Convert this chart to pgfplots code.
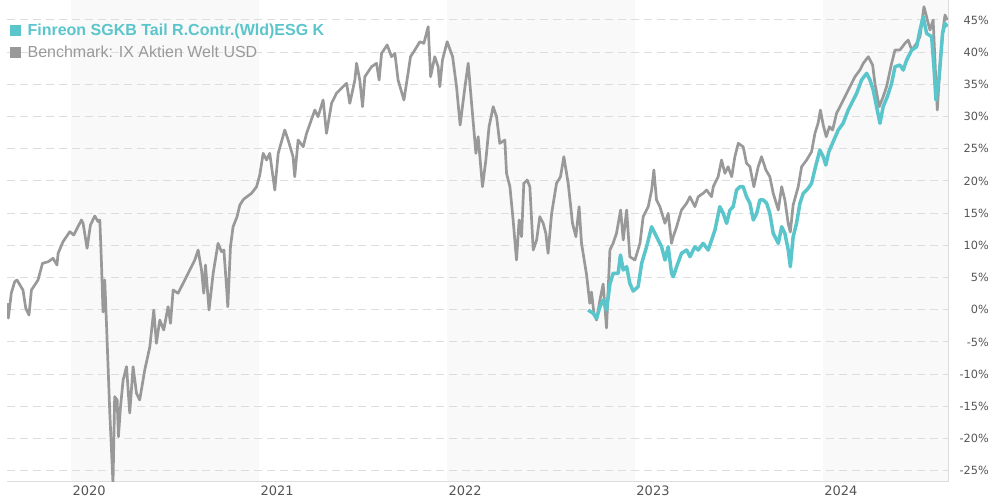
\documentclass[border=0pt]{standalone}
\usepackage{fontspec}
\setmainfont{Liberation Sans}
\newfontfamily\tickfont{DejaVu Sans}
\usepackage{pgfplots}
\pgfplotsset{compat=1.18}
\usepackage{pgfplotstable}
\definecolor{fundteal}{RGB}{91,197,204}
\definecolor{benchgray}{RGB}{153,153,153}
\definecolor{bandgray}{RGB}{249,249,249}
\definecolor{gridgray}{RGB}{221,221,221}
\definecolor{ticktext}{RGB}{85,85,85}

\pgfplotstableread{
x y
2019.657 1.0
2019.664 -1.3
2019.680 2.6
2019.698 4.35
2019.710 4.61
2019.742 3.06
2019.757 0.22
2019.774 -0.82
2019.787 3.06
2019.822 4.61
2019.846 7.21
2019.876 7.45
2019.902 7.98
2019.923 6.94
2019.929 8.76
2019.955 10.56
2019.991 12.11
2020.012 11.60
2020.053 13.93
2020.062 13.42
2020.083 9.54
2020.101 13.15
2020.124 14.55
2020.142 13.67
2020.151 13.93
2020.160 6.94
2020.168 -0.36
2020.177 4.61
2020.186 -1.91
2020.204 -16.04
2020.221 -27.0
2020.230 -13.51
2020.243 -14.02
2020.250 -19.72
2020.261 -15.06
2020.275 -10.92
2020.293 -8.85
2020.310 -16.04
2020.328 -8.85
2020.346 -12.98
2020.363 -14.02
2020.390 -9.36
2020.417 -5.75
2020.438 -0.05
2020.452 -5.22
2020.470 -1.60
2020.491 -3.15
2020.514 0.47
2020.527 -2.11
2020.541 3.06
2020.567 2.55
2020.603 4.61
2020.630 6.17
2020.656 7.72
2020.674 9.27
2020.692 6.17
2020.704 2.55
2020.713 6.94
2020.732 -0.05
2020.754 5.65
2020.780 10.31
2020.798 9.01
2020.811 9.27
2020.825 3.57
2020.832 0.47
2020.846 9.78
2020.860 12.89
2020.881 14.44
2020.896 16.26
2020.913 17.04
2020.922 17.30
2020.958 18.08
2020.985 19.10
2021.002 20.92
2021.020 24.29
2021.038 23.25
2021.055 24.29
2021.082 18.59
2021.100 24.29
2021.135 27.91
2021.153 26.35
2021.179 23.76
2021.188 20.65
2021.206 26.35
2021.233 25.31
2021.251 27.39
2021.295 31.01
2021.312 29.97
2021.339 32.57
2021.357 27.39
2021.384 32.05
2021.410 33.61
2021.445 34.63
2021.464 35.16
2021.481 32.05
2021.508 35.67
2021.517 38.27
2021.534 35.67
2021.549 31.53
2021.561 36.19
2021.597 37.74
2021.623 38.27
2021.637 35.67
2021.650 39.82
2021.680 41.11
2021.703 39.29
2021.721 39.82
2021.738 35.67
2021.769 32.57
2021.791 36.71
2021.804 39.29
2021.827 40.33
2021.854 41.62
2021.875 41.37
2021.898 43.95
2021.911 36.19
2021.933 39.29
2021.951 37.74
2021.960 34.63
2021.974 38.78
2021.999 41.62
2022.028 39.29
2022.049 34.63
2022.068 28.68
2022.093 34.43
2022.111 38.27
2022.129 32.05
2022.152 24.29
2022.164 26.87
2022.187 19.10
2022.205 23.25
2022.222 28.42
2022.244 31.53
2022.262 29.97
2022.279 25.84
2022.306 26.35
2022.315 21.18
2022.333 19.10
2022.350 13.93
2022.368 7.72
2022.382 13.93
2022.395 11.34
2022.407 19.63
2022.425 20.14
2022.439 19.10
2022.457 9.27
2022.475 10.82
2022.492 14.44
2022.510 13.42
2022.524 11.86
2022.536 8.76
2022.555 14.97
2022.581 19.63
2022.602 20.65
2022.620 23.76
2022.643 19.63
2022.666 13.42
2022.684 11.34
2022.701 16.00
2022.714 10.31
2022.741 5.39
2022.758 0.99
2022.767 2.75
2022.780 -0.56
2022.794 -1.60
2022.812 1.51
2022.829 3.99
2022.847 -2.84
2022.865 9.27
2022.882 10.31
2022.900 11.86
2022.922 15.48
2022.936 10.82
2022.954 15.48
2022.971 8.23
2022.998 7.72
2023.025 10.31
2023.042 14.44
2023.069 16.00
2023.087 18.59
2023.099 21.70
2023.113 17.04
2023.131 16.00
2023.158 13.42
2023.175 14.97
2023.193 10.31
2023.202 11.34
2023.220 12.89
2023.246 15.48
2023.273 16.52
2023.291 17.55
2023.317 16.00
2023.335 17.55
2023.361 18.08
2023.379 18.59
2023.406 17.55
2023.415 19.10
2023.441 20.65
2023.459 23.25
2023.477 21.18
2023.494 22.21
2023.513 20.65
2023.530 23.76
2023.548 25.84
2023.574 25.31
2023.592 22.74
2023.610 22.21
2023.631 19.10
2023.654 22.21
2023.672 23.76
2023.695 21.70
2023.716 20.65
2023.734 18.08
2023.761 15.48
2023.779 19.10
2023.796 17.04
2023.814 13.31
2023.825 12.07
2023.840 16.26
2023.867 19.10
2023.885 22.21
2023.912 23.25
2023.938 24.54
2023.956 27.39
2023.973 29.00
2023.985 31.01
2024.000 28.68
2024.016 26.87
2024.033 28.42
2024.050 27.91
2024.071 30.50
2024.089 31.53
2024.116 33.08
2024.142 34.63
2024.169 36.19
2024.195 37.22
2024.213 38.27
2024.240 39.29
2024.263 38.00
2024.275 35.16
2024.298 31.53
2024.319 33.08
2024.337 34.63
2024.364 38.27
2024.382 40.33
2024.408 40.33
2024.435 41.37
2024.452 41.88
2024.471 40.33
2024.497 41.37
2024.515 42.40
2024.536 47.06
2024.550 45.50
2024.568 43.44
2024.585 44.99
2024.600 35.16
2024.607 31.01
2024.621 37.74
2024.635 42.92
2024.648 45.77
2024.660 44.99
}\bench

\pgfplotstableread{
x y
2022.749 -0.05
2022.776 -0.56
2022.794 -1.34
2022.812 0.47
2022.829 1.51
2022.847 -0.05
2022.865 3.99
2022.882 5.65
2022.909 5.65
2022.921 8.49
2022.936 6.17
2022.954 6.68
2022.971 4.10
2022.989 2.90
2023.015 3.57
2023.034 7.21
2023.060 9.78
2023.087 12.89
2023.113 11.34
2023.140 9.78
2023.158 7.72
2023.175 9.78
2023.193 5.65
2023.202 5.12
2023.220 6.68
2023.246 8.76
2023.273 9.27
2023.291 8.23
2023.317 9.78
2023.335 9.27
2023.361 10.31
2023.388 9.27
2023.406 10.82
2023.424 12.38
2023.450 16.00
2023.468 14.97
2023.486 13.42
2023.504 15.48
2023.521 16.00
2023.539 18.59
2023.557 19.10
2023.574 19.10
2023.592 17.55
2023.610 16.52
2023.628 13.93
2023.646 14.97
2023.663 17.04
2023.681 17.04
2023.699 16.52
2023.716 14.97
2023.734 11.86
2023.761 10.31
2023.779 12.89
2023.796 11.86
2023.814 9.27
2023.825 6.68
2023.840 11.34
2023.858 13.42
2023.876 16.52
2023.894 18.08
2023.920 18.85
2023.938 19.63
2023.959 22.21
2023.973 23.76
2023.982 24.80
2024.000 23.76
2024.014 22.47
2024.030 24.54
2024.053 26.09
2024.080 27.91
2024.106 28.95
2024.133 31.01
2024.151 32.05
2024.178 33.61
2024.204 35.67
2024.231 36.71
2024.249 35.67
2024.266 34.12
2024.284 31.53
2024.302 28.95
2024.319 31.53
2024.341 33.08
2024.364 35.16
2024.382 37.74
2024.408 38.00
2024.426 37.22
2024.444 38.78
2024.471 40.33
2024.497 40.84
2024.515 43.44
2024.532 45.50
2024.550 42.92
2024.577 42.40
2024.589 37.74
2024.600 32.57
2024.617 36.19
2024.635 42.92
2024.648 44.47
2024.660 43.95
}\fund

\begin{document}
\begin{tikzpicture}
\begin{axis}[
  name=A, set layers,
  scale only axis, width=941pt, height=481.7pt,
  xmin=2019.657, xmax=2024.664, ymin=-26.71, ymax=48.10,
  axis x line=bottom, axis y line=right,
  axis line style={-, draw=gridgray, line width=1pt},
  xtick={2020,2021,2022,2023,2024},
  xticklabels={2020,2021,2022,2023,2024},
  ytick={-25,-20,-15,-10,-5,0,5,10,15,20,25,30,35,40,45},
  yticklabels={-25\%,-20\%,-15\%,-10\%,-5\%,0\%,5\%,10\%,15\%,20\%,25\%,30\%,35\%,40\%,45\%},
  major tick length=0pt,
  ymajorgrids,
  major grid style={draw=gridgray, dash pattern=on 8pt off 5pt, line width=1pt},
  xticklabel style={font=\tickfont\fontsize{13}{15}\selectfont, text=ticktext, anchor=north west, inner sep=0pt, xshift=1pt, yshift=-3.5pt},
  yticklabel style={font=\tickfont\fontsize{11.3}{13}\selectfont, text=ticktext, anchor=east, inner sep=0pt, xshift=41pt},
  legend style={at={(0,1)}, anchor=north west, xshift=3pt, yshift=-23.5pt, draw=none, fill=none, inner sep=0pt, row sep=9pt, font=\fontsize{16}{19}\selectfont, nodes={inner sep=0pt}, cells={anchor=west}},
  legend image code/.code={\fill[#1] (0pt,-5pt) rectangle (10pt,5pt); \path (17pt,0pt);},
]
\addplot[draw=none, fill=bandgray, forget plot, on layer=axis background] coordinates {(2020,-26.71) (2021,-26.71) (2021,48.10) (2020,48.10)};
\addplot[draw=none, fill=bandgray, forget plot, on layer=axis background] coordinates {(2022,-26.71) (2023,-26.71) (2023,48.10) (2022,48.10)};
\addplot[draw=none, fill=bandgray, forget plot, on layer=axis background] coordinates {(2024,-26.71) (2024.664,-26.71) (2024.664,48.10) (2024,48.10)};
\addlegendimage{fundteal}
\addlegendentry{\textcolor{fundteal}{\textbf{Finreon SGKB Tail R.Contr.(Wld)ESG K}}}
\addlegendimage{benchgray}
\addlegendentry{\textcolor{benchgray}{Benchmark: IX Aktien Welt USD}}
\addplot[benchgray, line width=2.7pt, line join=round, forget plot] table {\bench};
\addplot[fundteal, line width=3.5pt, line join=round, forget plot] table {\fund};
\end{axis}
\pgfresetboundingbox
\path[use as bounding box] ([xshift=-7pt,yshift=-18.3pt]A.south west) rectangle ([xshift=42pt]A.north east);
\end{tikzpicture}
\end{document}
